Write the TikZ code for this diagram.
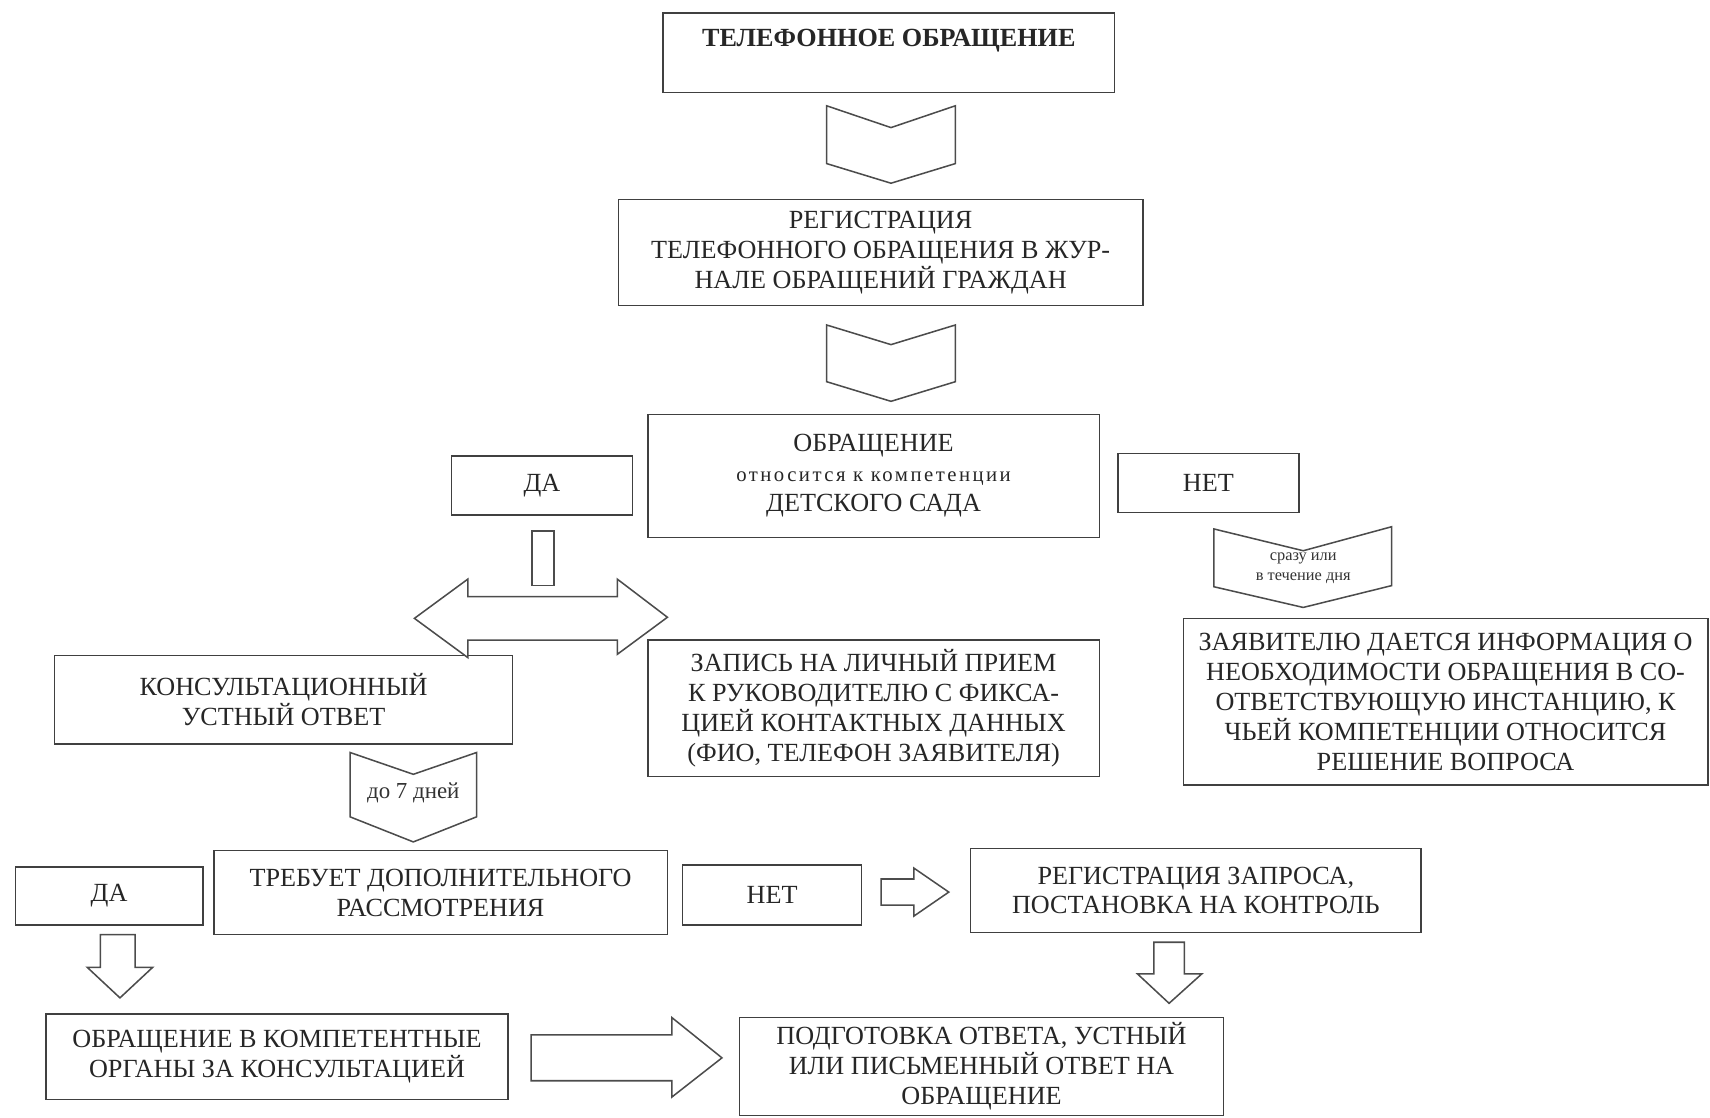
\documentclass[tikz,border=0pt]{standalone}
\usepackage{fontspec}
\setmainfont{Liberation Serif}
\usepackage{tikz}

\tikzset{
  stage/.style={draw=black!75, line width=1.4pt, align=center, inner sep=2pt,
    text=black!85, font=\fontsize{24}{27.5}\selectfont},
  hollow/.style={draw=black!70, line width=1.4pt, fill=white, line join=miter},
  hint/.style={align=center, inner sep=0pt, text=black!80}
}

\begin{document}
\begin{tikzpicture}[x=1pt, y=-1pt]

\useasboundingbox ( 0, 0 ) rectangle ( 1568, 1025 );

% Main column
\node (tel) at ( 815, 48.5 ) [stage, minimum width=414pt, minimum height=73pt]
  {\bfseries ТЕЛЕФОННОЕ ОБРАЩЕНИЕ\\ ~};
\node (reg) at ( 807.5, 231.5 ) [stage, minimum width=481pt, minimum height=97pt]
  {РЕГИСТРАЦИЯ\\ТЕЛЕФОННОГО ОБРАЩЕНИЯ В ЖУР-\\НАЛЕ ОБРАЩЕНИЙ ГРАЖДАН};
\node (obr) at ( 801, 436.5 ) [stage, minimum width=414pt, minimum height=113pt]
  {ОБРАЩЕНИЕ\\{\fontsize{19}{27.5}\selectfont\addfontfeature{LetterSpace=12}относится к компетенции}\\ДЕТСКОГО САДА};

% Yes / no
\node (yes1) at ( 497, 445 ) [stage, minimum width=166pt, minimum height=54pt] {ДА};
\node (no1) at ( 1108, 443 ) [stage, minimum width=166pt, minimum height=54pt] {НЕТ};

% Answers
\node (cons) at ( 260, 641.5 ) [stage, minimum width=420pt, minimum height=81pt]
  {КОНСУЛЬТАЦИОННЫЙ\\УСТНЫЙ ОТВЕТ};
\node (zap) at ( 801, 649.5 ) [stage, minimum width=414pt, minimum height=125pt]
  {ЗАПИСЬ НА ЛИЧНЫЙ ПРИЕМ\\К РУКОВОДИТЕЛЮ С ФИКСА-\\ЦИЕЙ КОНТАКТНЫХ ДАННЫХ\\(ФИО, ТЕЛЕФОН ЗАЯВИТЕЛЯ)};
\node (info) at ( 1325.5, 643.5 ) [stage, minimum width=481pt, minimum height=153pt]
  {ЗАЯВИТЕЛЮ ДАЕТСЯ ИНФОРМАЦИЯ О\\НЕОБХОДИМОСТИ ОБРАЩЕНИЯ В СО-\\ОТВЕТСТВУЮЩУЮ ИНСТАНЦИЮ, К\\ЧЬЕЙ КОМПЕТЕНЦИИ ОТНОСИТСЯ\\РЕШЕНИЕ ВОПРОСА};

% Second decision
\node (yes2) at ( 100, 821.5 ) [stage, minimum width=172pt, minimum height=53pt] {ДА};
\node (req) at ( 404, 818.5 ) [stage, minimum width=416pt, minimum height=77pt]
  {ТРЕБУЕТ ДОПОЛНИТЕЛЬНОГО\\РАССМОТРЕНИЯ};
\node (no2) at ( 708, 820.5 ) [stage, minimum width=164pt, minimum height=55pt] {НЕТ};
\node (regq) at ( 1096.5, 816.5 ) [stage, minimum width=413pt, minimum height=77pt]
  {РЕГИСТРАЦИЯ ЗАПРОСА,\\ПОСТАНОВКА НА КОНТРОЛЬ};

% Results
\node (comp) at ( 254, 969 ) [stage, minimum width=424pt, minimum height=78pt]
  {ОБРАЩЕНИЕ В КОМПЕТЕНТНЫЕ\\ОРГАНЫ ЗА КОНСУЛЬТАЦИЕЙ};
\node (prep) at ( 900, 978 ) [stage, minimum width=444pt, minimum height=90pt]
  {ПОДГОТОВКА ОТВЕТА, УСТНЫЙ\\ИЛИ ПИСЬМЕННЫЙ ОТВЕТ НА\\ОБРАЩЕНИЕ};

% Chevrons
\draw [hollow] ( 758, 97 ) -- ( 817, 117 ) -- ( 876, 97 ) -- ( 876, 150 ) -- ( 817, 168 ) -- ( 758, 150 ) -- cycle;
\draw [hollow] ( 758, 298 ) -- ( 817, 316 ) -- ( 876, 298 ) -- ( 876, 350 ) -- ( 817, 368 ) -- ( 758, 350 ) -- cycle;
\draw [hollow] ( 1113, 485 ) -- ( 1195, 505 ) -- ( 1276, 483 ) -- ( 1276, 537 ) -- ( 1195, 557 ) -- ( 1113, 538 ) -- cycle;
\draw [hollow] ( 321, 690 ) -- ( 379, 710 ) -- ( 437, 690 ) -- ( 437, 749 ) -- ( 379, 772 ) -- ( 321, 749 ) -- cycle;

\node (soon) at ( 1195, 521 ) [hint, font=\fontsize{15}{19}\selectfont] {сразу или\\в течение дня};
\node (week) at ( 379, 727 ) [hint, font=\fontsize{21}{25}\selectfont] {до 7 дней};

% Block arrows
\draw [hollow] ( 488, 487 ) rectangle ( 508, 537 );
\draw [hollow] ( 380, 567 ) -- ( 429, 531 ) -- ( 429, 547 ) -- ( 566, 547 ) -- ( 566, 531 )
  -- ( 612, 566 ) -- ( 566, 600 ) -- ( 566, 587 ) -- ( 429, 587 ) -- ( 429, 603 ) -- cycle;
\draw [hollow] ( 808, 806 ) -- ( 838, 806 ) -- ( 838, 796 ) -- ( 870, 818 ) -- ( 838, 840 ) -- ( 838, 830 ) -- ( 808, 830 ) -- cycle;
\draw [hollow] ( 92, 857 ) -- ( 124, 857 ) -- ( 124, 887 ) -- ( 140, 887 ) -- ( 110, 915 ) -- ( 80, 887 ) -- ( 92, 887 ) -- cycle;
\draw [hollow] ( 1058, 864 ) -- ( 1086, 864 ) -- ( 1086, 893 ) -- ( 1102, 893 ) -- ( 1072, 920 ) -- ( 1043, 893 ) -- ( 1058, 893 ) -- cycle;
\draw [hollow] ( 487, 949 ) -- ( 616, 949 ) -- ( 616, 933 ) -- ( 662, 970 ) -- ( 616, 1006 ) -- ( 616, 991 ) -- ( 487, 991 ) -- cycle;

\end{tikzpicture}
\end{document}
